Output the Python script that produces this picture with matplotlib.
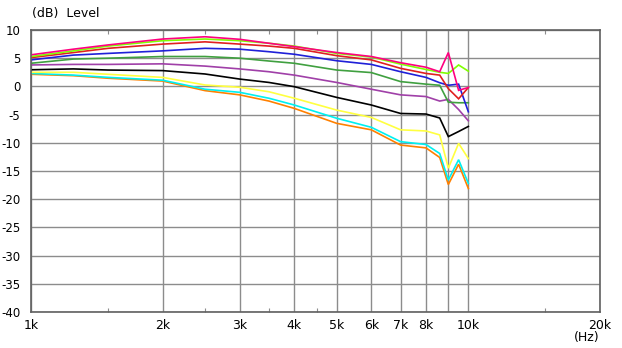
import numpy as np
import matplotlib
matplotlib.use('Agg')
import matplotlib.pyplot as plt
import matplotlib.ticker as mticker

# frequency points (Hz)
freq = [1000, 1250, 1500, 2000, 2500, 3000, 3500, 4000, 5000, 6000, 7000, 8000, 8600, 9000, 9500, 10000]

# level curves (dB)
pink    = [5.6, 6.6, 7.35, 8.4, 8.8, 8.35, 7.65, 7.05, 6.0, 5.3, 4.2, 3.4, 2.6, 6.0, -0.7, -0.2]
lime    = [5.3, 6.3, 7.15, 8.1, 8.4, 8.1, 7.65, 7.15, 5.85, 5.2, 3.95, 3.0, 2.5, 2.3, 3.8, 2.7]
red     = [5.1, 6.0, 6.75, 7.5, 7.9, 7.5, 7.15, 6.75, 5.45, 4.7, 3.2, 2.3, 2.0, -0.4, -2.2, -0.2]
blue    = [4.7, 5.55, 5.85, 6.3, 6.75, 6.6, 6.15, 5.7, 4.55, 3.9, 2.6, 1.6, 0.65, 0.2, 0.4, -4.5]
green   = [4.1, 4.85, 5.0, 5.3, 5.3, 5.0, 4.5, 4.1, 2.9, 2.45, 0.85, 0.4, 0.2, -2.8, -2.9, -2.9]
purple  = [3.8, 3.9, 3.9, 4.0, 3.6, 3.1, 2.6, 2.0, 0.7, -0.5, -1.5, -1.8, -2.6, -2.3, -4.1, -6.1]
black   = [2.95, 3.1, 2.9, 2.8, 2.2, 1.3, 0.7, -0.05, -1.95, -3.3, -4.8, -4.9, -5.6, -8.9, -8.0, -7.1]
yellow  = [2.5, 2.5, 2.15, 1.6, 0.25, -0.15, -0.95, -2.1, -4.2, -5.5, -7.7, -7.9, -8.6, -14.5, -10.1, -12.8]
cyan    = [2.3, 2.0, 1.6, 1.1, -0.5, -1.05, -2.1, -3.3, -5.65, -7.25, -9.8, -10.3, -11.9, -16.6, -13.0, -17.2]
orange  = [2.15, 1.9, 1.45, 0.95, -0.75, -1.5, -2.6, -3.9, -6.55, -7.7, -10.4, -10.9, -12.6, -17.4, -13.8, -18.1]

series = [
    (orange, '#ff8000'),
    (cyan, '#00f0f0'),
    (yellow, '#ffff40'),
    (black, '#000000'),
    (purple, '#a040a8'),
    (green, '#40a040'),
    (blue, '#2020d8'),
    (red, '#e02020'),
    (lime, '#80ff00'),
    (pink, '#ff0080'),
]

xticks = [1000, 2000, 3000, 4000, 5000, 6000, 7000, 8000, 9000, 10000, 20000]
xlabels = ['1k', '2k', '3k', '4k', '5k', '6k', '7k', '8k', '', '10k', '20k']
minor_ticks = [1500, 2500, 3500, 4500, 15000]
yticks = [10, 5, 0, -5, -10, -15, -20, -25, -30, -35, -40]

fig = plt.figure(figsize=(6.22, 3.48), dpi=100)
ax = fig.add_axes([31/622, 1 - 312/348, 569/622, 282/348])

for values, col in series:
    ax.plot(freq, values, color=col, linewidth=1.2, solid_joinstyle='miter')

ax.set_xscale('log')
ax.set_xlim(1000, 20000)
ax.set_ylim(-40, 10)

ax.xaxis.set_major_locator(mticker.FixedLocator(xticks))
ax.xaxis.set_major_formatter(mticker.FixedFormatter(xlabels))
ax.xaxis.set_minor_locator(mticker.FixedLocator(minor_ticks))
ax.xaxis.set_minor_formatter(mticker.NullFormatter())
ax.set_yticks(yticks)
ax.set_yticklabels([str(v) for v in yticks])

ax.grid(True, which='major', color='#8c8c8c', linewidth=1.0)
ax.set_axisbelow(True)
ax.tick_params(axis='both', which='major', length=0, colors='#000000')
ax.tick_params(axis='x', which='major', pad=5, labelsize=9)
ax.tick_params(axis='y', which='major', pad=7.5, labelsize=8.5)
ax.tick_params(axis='x', which='minor', direction='in', length=3, top=True, bottom=True,
               color='#8c8c8c', width=0.8)

for sp in ax.spines.values():
    sp.set_color('#606060')
    sp.set_linewidth(1.2)

fig.text(32/622, 1 - 14/348, '(dB)  Level', fontsize=9, ha='left', va='center')
fig.text(587/622, 1 - 337/348, '(Hz)', fontsize=9, ha='center', va='center')

fig.savefig('out.png', dpi=100)
